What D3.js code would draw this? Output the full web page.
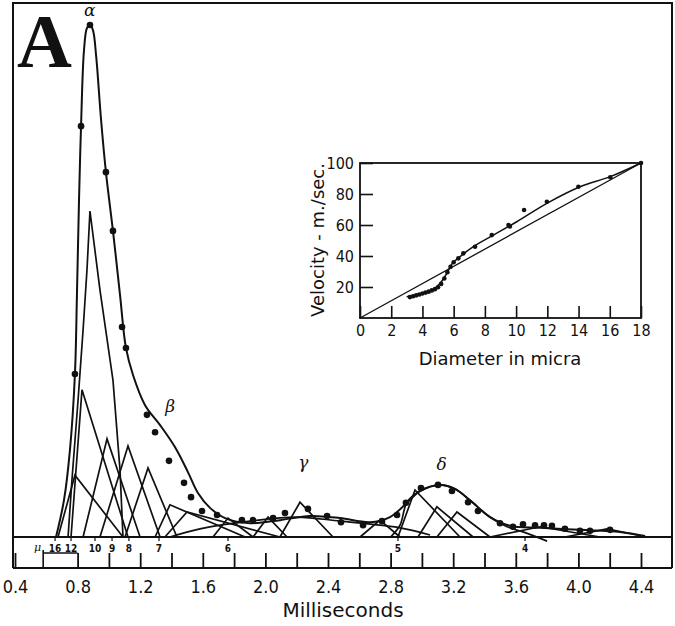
<!DOCTYPE html>
<html>
<head>
<meta charset="utf-8">
<script src="https://cdn.jsdelivr.net/npm/d3@7"></script>
<style>
  body { margin: 0; background: #fff; }
  text { fill: #111; }
</style>
</head>
<body>
<div id="canvas"></div>
<script>
"use strict"

let drawingWidth = 675;
let drawingHeight = 626;

/* Main chart: time of arrival (ms) against relative number of fibres */
let msTicks = [0.4, 0.8, 1.0, 1.2, 1.4, 1.6, 1.8, 2.0, 2.2, 2.4, 2.6, 2.8, 3.0, 3.2, 3.4, 3.6, 3.8, 4.0, 4.2, 4.4];
let msLabels = ["0.4", "0.8", "1.2", "1.6", "2.0", "2.4", "2.8", "3.2", "3.6", "4.0", "4.4"];

let diamLabels = ["16", "12", "10", "9", "8", "7", "6", "5", "4"];
let diamMs = [0.656, 0.758, 0.911, 1.020, 1.128, 1.320, 1.761, 2.847, 3.659];

/* observed points [ms, value] */
let observed = [
    [0.783, 31.9], [0.822, 80.4], [0.879, 100.2], [0.981, 71.4], [1.026, 59.9],
    [1.084, 41.1], [1.109, 37.0], [1.243, 23.9], [1.295, 20.5], [1.384, 14.9],
    [1.480, 10.6], [1.525, 7.8], [1.595, 5.1], [1.691, 4.3], [1.850, 3.3],
    [1.921, 3.3], [2.049, 3.7], [2.125, 4.7], [2.272, 5.5], [2.394, 4.1],
    [2.483, 2.9], [2.624, 2.3], [2.745, 3.1], [2.841, 4.3], [2.898, 6.7],
    [2.994, 9.6], [3.103, 10.2], [3.192, 9.0], [3.295, 6.8], [3.358, 5.1],
    [3.499, 2.7], [3.582, 2.0], [3.646, 2.5], [3.723, 2.3], [3.780, 2.3],
    [3.831, 2.2], [3.914, 1.6], [4.010, 1.2], [4.074, 1.2], [4.202, 1.4]
];

/* summed (calculated) curve */
let envelope = [
    [0.662, 0], [0.713, 7.2], [0.751, 17.0], [0.783, 31.9], [0.796, 47.7],
    [0.809, 65.9], [0.822, 80.4], [0.841, 95.3], [0.860, 99.6], [0.879, 100.2],
    [0.898, 99.2], [0.918, 94.3], [0.950, 81.6], [0.981, 71.4], [1.026, 59.9],
    [1.071, 47.4], [1.109, 37.0], [1.154, 31.7], [1.231, 25.8], [1.327, 21.9],
    [1.422, 17.6], [1.505, 12.7], [1.569, 8.6], [1.646, 5.7], [1.742, 3.7],
    [1.902, 2.7], [2.093, 3.3], [2.285, 4.1], [2.477, 3.7], [2.668, 2.9],
    [2.796, 3.9], [2.892, 6.3], [2.988, 9.0], [3.116, 10.2], [3.212, 9.4],
    [3.307, 7.2], [3.435, 3.9], [3.563, 2.2], [3.755, 1.8], [4.010, 1.4],
    [4.266, 1.0], [4.426, 0.2]
];

/* largest single component under alpha */
let innerPeak = [
    [0.739, 0], [0.764, 11.2], [0.803, 26.8], [0.835, 40.5], [0.860, 52.3],
    [0.879, 63.8], [0.943, 48.3], [1.026, 30.7], [1.071, 13.1], [1.090, 0]
];

/* triangular components: [left foot, peak ms, peak value, right foot] */
let triangles = [
    [0.758, 0.828, 28.8, 1.122],
    [0.675, 0.783, 12.1, 1.090],
    [0.835, 0.988, 19.2, 1.199],
    [0.943, 1.122, 17.8, 1.327],
    [1.103, 1.250, 13.5, 1.435],
    [1.295, 1.390, 6.3, 1.870],
    [1.358, 1.499, 4.9, 2.093],
    [1.665, 1.761, 3.7, 1.921],
    [1.921, 2.017, 3.9, 2.138],
    [2.093, 2.221, 6.8, 2.432],
    [2.605, 2.732, 3.3, 2.860],
    [2.847, 2.956, 9.2, 3.243],
    [2.975, 3.096, 5.9, 3.327],
    [3.096, 3.224, 4.9, 3.435],
    [3.435, 3.755, 2.0, 4.138],
    [3.914, 4.183, 1.6, 4.438]
];

/* broad smooth components */
let gammaHump = [[1.390, 0], [1.582, 1.6], [1.902, 3.1], [2.202, 3.9], [2.477, 3.1], [2.860, 1.8], [3.052, 0.4]];
let deltaHump = [[2.800, 0], [2.860, 2.3], [2.905, 6.8], [2.988, 9.0], [3.116, 10.2], [3.212, 9.4],
    [3.307, 7.2], [3.435, 3.9], [3.544, 2.0], [3.646, 1.0], [3.800, -0.8]];

/* Inset: velocity against fibre diameter */
let insetXTicks = [0, 2, 4, 6, 8, 10, 12, 14, 16, 18];
let insetYTicks = [20, 40, 60, 80, 100];
let insetLine = [[0, 0], [18, 100]];
let insetCurve = [
    [2.99, 13.7], [3.85, 15.5], [4.70, 18.5], [5.13, 22.4], [5.56, 28.8], [5.92, 35.3],
    [6.41, 39.6], [7.26, 46.0], [8.55, 53.5], [10.04, 62.1], [11.97, 74.0],
    [14.1, 84.7], [16.03, 91.2], [18, 100]
];
let insetDots = [
    [3.2, 13.5], [3.4, 14.0], [3.6, 14.6], [3.8, 15.2], [4.0, 15.8], [4.2, 16.4],
    [4.4, 17.0], [4.6, 17.8], [4.8, 18.6], [5.0, 19.8], [5.2, 22.0], [5.4, 25.5],
    [5.6, 29.5], [5.8, 33.0], [6.0, 36.0], [6.30, 38.5], [6.62, 41.7], [7.37, 46.0],
    [8.44, 53.5], [9.51, 60.0], [9.60, 59.0], [10.51, 69.7], [11.97, 75.0],
    [13.99, 84.7], [16.03, 90.8], [18, 100]
];

let drawing = d3.select("#canvas")
    .append("svg")
    .attr("width", drawingWidth)
    .attr("height", drawingHeight)
    .style("font-family", "'DejaVu Sans', sans-serif");

drawing.append("rect")
    .attr("width", drawingWidth)
    .attr("height", drawingHeight)
    .attr("fill", "white");

let x = d3.scaleLinear().domain([0.4, 4.4]).range([15, 641]);
let y = d3.scaleLinear().domain([0, 100]).range([537, 26]);

/* frame, baseline and the bracket under 0.6 - 0.8 */
let frameLeft = 13, frameRight = 672, frameTop = 3, axisY = 568;

drawing.append("path")
    .attr("d", `M${frameLeft},${axisY} V${frameTop} H${frameRight} V${axisY}`)
    .attr("fill", "none")
    .attr("stroke", "#111")
    .attr("stroke-width", 2);

drawing.append("line")
    .attr("x1", frameLeft).attr("x2", frameRight)
    .attr("y1", y(0)).attr("y2", y(0))
    .attr("stroke", "#111").attr("stroke-width", 1.8);

/* time axis: ticks point up into the strip */
let xAxis = d3.axisBottom(x)
    .tickValues(msTicks)
    .tickSizeInner(-15)
    .tickSizeOuter(0)
    .tickPadding(12)
    .tickFormat(d => {
        let s = d3.format(".1f")(d);
        return msLabels.includes(s) ? s : "";
    });

let gx = drawing.append("g")
    .attr("transform", `translate(0,${axisY})`)
    .call(xAxis);
gx.select(".domain").remove();
gx.selectAll("line").attr("stroke", "#111").attr("stroke-width", 1.8);
gx.selectAll("text")
    .attr("font-family", "'DejaVu Sans Condensed', 'Liberation Sans Narrow', 'DejaVu Sans', sans-serif")
    .attr("font-size", 18)
    .attr("fill", "#111");

drawing.append("line")
    .attr("x1", frameLeft).attr("x2", frameRight)
    .attr("y1", axisY).attr("y2", axisY)
    .attr("stroke", "#111").attr("stroke-width", 2);

/* mu marker and bracket */
drawing.append("path")
    .attr("d", `M${x(0.58)},${axisY} V${axisY - 18} M${x(0.58)},${axisY - 15} H${x(0.8)}`)
    .attr("fill", "none")
    .attr("stroke", "#111")
    .attr("stroke-width", 1.6);
drawing.append("text")
    .attr("x", x(0.58) - 2)
    .attr("y", axisY - 17)
    .attr("text-anchor", "end")
    .attr("font-family", "'DejaVu Serif', serif")
    .attr("font-style", "italic")
    .attr("font-size", 11)
    .text("μ");

/* diameter labels in the strip */
diamMs.forEach((d, i) => {
    drawing.append("line")
        .attr("x1", x(d)).attr("x2", x(d))
        .attr("y1", y(0)).attr("y2", y(0) + 4)
        .attr("stroke", "#111").attr("stroke-width", 1.2);
    drawing.append("text")
        .attr("x", x(d))
        .attr("y", y(0) + 15)
        .attr("text-anchor", "middle")
        .attr("font-family", "'DejaVu Sans Condensed', 'DejaVu Sans', sans-serif")
        .attr("font-size", 10)
        .attr("font-weight", "bold")
        .text(diamLabels[i]);
});

drawing.append("text")
    .attr("x", 343)
    .attr("y", 617)
    .attr("text-anchor", "middle")
    .attr("font-size", 20)
    .text("Milliseconds");

/* components */
let lineLinear = d3.line().x(d => x(d[0])).y(d => y(d[1]));
let lineSmooth = d3.line().x(d => x(d[0])).y(d => y(d[1])).curve(d3.curveCatmullRom.alpha(0.5));

let comps = drawing.append("g")
    .attr("fill", "none")
    .attr("stroke", "#111")
    .attr("stroke-width", 1.7)
    .attr("stroke-linejoin", "miter");

triangles.forEach(t => {
    comps.append("path")
        .attr("d", lineLinear([[t[0], 0], [t[1], t[2]], [t[3], 0]]));
});

comps.append("path").attr("d", lineLinear(innerPeak));
comps.append("path").attr("d", lineSmooth(gammaHump));
comps.append("path").attr("d", lineSmooth(deltaHump));

drawing.append("path")
    .attr("d", lineSmooth(envelope))
    .attr("fill", "none")
    .attr("stroke", "#111")
    .attr("stroke-width", 2);

drawing.append("g")
    .selectAll("circle")
    .data(observed)
    .join("circle")
    .attr("cx", d => x(d[0]))
    .attr("cy", d => y(d[1]))
    .attr("r", 3.3)
    .attr("fill", "#111");

/* peak names */
let greek = [["α", 0.878, 16], ["β", 1.392, 412], ["γ", 2.243, 468], ["δ", 3.126, 470]];
greek.forEach(g => {
    drawing.append("text")
        .attr("x", x(g[1]))
        .attr("y", g[2])
        .attr("text-anchor", "middle")
        .attr("font-family", "'DejaVu Serif', serif")
        .attr("font-style", "italic")
        .attr("font-size", 17)
        .text(g[0]);
});

drawing.append("text")
    .attr("x", 17)
    .attr("y", 67)
    .attr("font-family", "'Liberation Serif', 'DejaVu Serif', serif")
    .attr("font-weight", "bold")
    .attr("font-size", 76)
    .text("A");

/* Inset */
let ix = d3.scaleLinear().domain([0, 18]).range([360, 641]);
let iy = d3.scaleLinear().domain([0, 100]).range([318, 163]);

drawing.append("rect")
    .attr("x", ix(0)).attr("y", iy(100))
    .attr("width", ix(18) - ix(0)).attr("height", iy(0) - iy(100))
    .attr("fill", "white")
    .attr("stroke", "#111")
    .attr("stroke-width", 1.8);

let ixAxis = d3.axisBottom(ix)
    .tickValues(insetXTicks)
    .tickSizeInner(-12)
    .tickSizeOuter(0)
    .tickPadding(7)
    .tickFormat(d3.format("d"));
let gix = drawing.append("g")
    .attr("transform", `translate(0,${iy(0)})`)
    .call(ixAxis);

let iyAxis = d3.axisLeft(iy)
    .tickValues(insetYTicks)
    .tickSizeInner(-13)
    .tickSizeOuter(0)
    .tickPadding(6)
    .tickFormat(d3.format("d"));
let giy = drawing.append("g")
    .attr("transform", `translate(${ix(0)},0)`)
    .call(iyAxis);

[gix, giy].forEach(g => {
    g.select(".domain").remove();
    g.selectAll("line").attr("stroke", "#111").attr("stroke-width", 1.6);
    g.selectAll("text")
        .attr("font-family", "'DejaVu Sans Condensed', 'DejaVu Sans', sans-serif")
        .attr("font-size", 16)
        .attr("fill", "#111");
});

let iline = d3.line().x(d => ix(d[0])).y(d => iy(d[1]));
let icurve = d3.line().x(d => ix(d[0])).y(d => iy(d[1])).curve(d3.curveCatmullRom.alpha(0.5));

drawing.append("path")
    .attr("d", iline(insetLine))
    .attr("fill", "none").attr("stroke", "#111").attr("stroke-width", 1.3);
drawing.append("path")
    .attr("d", icurve(insetCurve))
    .attr("fill", "none").attr("stroke", "#111").attr("stroke-width", 1.5);

drawing.append("g")
    .selectAll("circle")
    .data(insetDots)
    .join("circle")
    .attr("cx", d => ix(d[0]))
    .attr("cy", d => iy(d[1]))
    .attr("r", 2.3)
    .attr("fill", "#111");

drawing.append("text")
    .attr("x", 500)
    .attr("y", 365)
    .attr("text-anchor", "middle")
    .attr("font-size", 18)
    .text("Diameter in micra");

drawing.append("text")
    .attr("transform", "translate(324,240) rotate(-90)")
    .attr("text-anchor", "middle")
    .attr("font-size", 18)
    .text("Velocity - m./sec.");
</script>
</body>
</html>
